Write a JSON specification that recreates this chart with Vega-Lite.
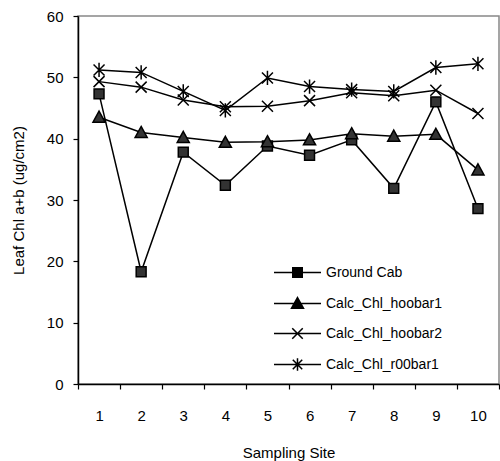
{
  "$schema": "https://vega.github.io/schema/vega-lite/v6.json",
  "width": 421,
  "height": 368,
  "autosize": {"type": "none"},
  "padding": {"left": 78, "top": 16, "right": 1, "bottom": 77},
  "background": "white",
  "config": {
    "font": "Liberation Sans",
    "view": {"stroke": "#888888", "strokeWidth": 1.5},
    "axis": {"grid": false, "domainColor": "black", "domainWidth": 1.5, "tickColor": "black", "tickWidth": 1.2, "tickSize": 5, "labelColor": "black", "labelFontSize": 15, "titleFontSize": 15, "titleFontWeight": "normal", "titleColor": "black"}
  },
  "data": {
    "values": [
      {"site": 1, "series": "Ground Cab", "value": 47.3},
      {"site": 2, "series": "Ground Cab", "value": 18.3},
      {"site": 3, "series": "Ground Cab", "value": 37.8},
      {"site": 4, "series": "Ground Cab", "value": 32.4},
      {"site": 5, "series": "Ground Cab", "value": 38.8},
      {"site": 6, "series": "Ground Cab", "value": 37.3},
      {"site": 7, "series": "Ground Cab", "value": 39.8},
      {"site": 8, "series": "Ground Cab", "value": 31.9},
      {"site": 9, "series": "Ground Cab", "value": 46.0},
      {"site": 10, "series": "Ground Cab", "value": 28.6},
      {"site": 1, "series": "Calc_Chl_hoobar1", "value": 43.5},
      {"site": 2, "series": "Calc_Chl_hoobar1", "value": 41.0},
      {"site": 3, "series": "Calc_Chl_hoobar1", "value": 40.2},
      {"site": 4, "series": "Calc_Chl_hoobar1", "value": 39.4},
      {"site": 5, "series": "Calc_Chl_hoobar1", "value": 39.5},
      {"site": 6, "series": "Calc_Chl_hoobar1", "value": 39.8},
      {"site": 7, "series": "Calc_Chl_hoobar1", "value": 40.8},
      {"site": 8, "series": "Calc_Chl_hoobar1", "value": 40.4},
      {"site": 9, "series": "Calc_Chl_hoobar1", "value": 40.7},
      {"site": 10, "series": "Calc_Chl_hoobar1", "value": 34.9},
      {"site": 1, "series": "Calc_Chl_hoobar2", "value": 49.3},
      {"site": 2, "series": "Calc_Chl_hoobar2", "value": 48.4},
      {"site": 3, "series": "Calc_Chl_hoobar2", "value": 46.3},
      {"site": 4, "series": "Calc_Chl_hoobar2", "value": 45.2},
      {"site": 5, "series": "Calc_Chl_hoobar2", "value": 45.3},
      {"site": 6, "series": "Calc_Chl_hoobar2", "value": 46.2},
      {"site": 7, "series": "Calc_Chl_hoobar2", "value": 47.5},
      {"site": 8, "series": "Calc_Chl_hoobar2", "value": 47.0},
      {"site": 9, "series": "Calc_Chl_hoobar2", "value": 47.9},
      {"site": 10, "series": "Calc_Chl_hoobar2", "value": 44.1},
      {"site": 1, "series": "Calc_Chl_r00bar1", "value": 51.2},
      {"site": 2, "series": "Calc_Chl_r00bar1", "value": 50.8},
      {"site": 3, "series": "Calc_Chl_r00bar1", "value": 47.7},
      {"site": 4, "series": "Calc_Chl_r00bar1", "value": 44.6},
      {"site": 5, "series": "Calc_Chl_r00bar1", "value": 49.9},
      {"site": 6, "series": "Calc_Chl_r00bar1", "value": 48.5},
      {"site": 7, "series": "Calc_Chl_r00bar1", "value": 48.0},
      {"site": 8, "series": "Calc_Chl_r00bar1", "value": 47.7},
      {"site": 9, "series": "Calc_Chl_r00bar1", "value": 51.6},
      {"site": 10, "series": "Calc_Chl_r00bar1", "value": 52.2}
    ]
  },
  "encoding": {
    "x": {"field": "site", "type": "ordinal", "title": "Sampling Site",
      "scale": {"type": "band", "paddingInner": 0, "paddingOuter": 0},
      "axis": {"labelAngle": 0, "tickBand": "extent", "labelPadding": 19, "titlePadding": 22}},
    "y": {"field": "value", "type": "quantitative", "title": "Leaf Chl a+b (ug/cm2)",
      "scale": {"domain": [0, 60], "nice": false},
      "axis": {"values": [0, 10, 20, 30, 40, 50, 60], "labelPadding": 10, "titlePadding": 20}}
  },
  "layer": [
    {
      "mark": {"type": "line", "color": "black", "strokeWidth": 1.5},
      "encoding": {"detail": {"field": "series"}}
    },
    {
      "mark": {"type": "point", "filled": true, "fill": "#333333", "stroke": "black", "strokeWidth": 1.5, "opacity": 1, "size": 121},
      "encoding": {
        "shape": {"field": "series", "legend": null,
          "scale": {"domain": ["Ground Cab", "Calc_Chl_hoobar1", "Calc_Chl_hoobar2", "Calc_Chl_r00bar1"],
            "range": ["M-0.9,-0.9H0.9V0.9H-0.9Z", "M0,-1.1L1.1,0.9L-1.1,0.9Z", "M-1,-1L1,1M-1,1L1,-1", "M-1,-1L1,1M-1,1L1,-1M0,-1.3L0,1.3"]}}
      }
    },
    {
      "transform": [{"filter": "datum.value < 0"}],
      "mark": {"type": "point", "filled": false, "color": "black", "strokeWidth": 1.5, "opacity": 1},
      "encoding": {
        "shape": {"field": "series", "title": null,
          "scale": {"domain": ["Ground Cab", "Calc_Chl_hoobar1", "Calc_Chl_hoobar2", "Calc_Chl_r00bar1"],
            "range": [
              "M-3.13,0L3.13,0M-0.63,-0.63H0.63V0.63H-0.63ZM-0.44,-0.44H0.44V0.44H-0.44ZM-0.25,-0.25H0.25V0.25H-0.25ZM-0.1,-0.1H0.1V0.1H-0.1Z",
              "M-3.13,0L3.13,0M0,-0.8L0.8,0.64L-0.8,0.64ZM0,-0.51L0.56,0.5L-0.56,0.5ZM0,-0.22L0.32,0.35L-0.32,0.35ZM0,0.02L0.12,0.23L-0.12,0.23Z",
              "M-3.13,0L3.13,0M-0.7,-0.7L0.7,0.7M-0.7,0.7L0.7,-0.7",
              "M-3.13,0L3.13,0M-0.63,-0.63L0.63,0.63M-0.63,0.63L0.63,-0.63M0,-0.83L0,0.83"]},
          "legend": {"orient": "none", "legendX": 211, "legendY": 248, "padding": 0,
            "symbolSize": 225, "symbolStrokeColor": "black", "symbolStrokeWidth": 1.5, "symbolOpacity": 1,
            "labelFontSize": 14, "labelColor": "black", "labelOffset": 20, "rowPadding": 13, "labelLimit": 300}
        }
      }
    }
  ],
  "resolve": {"scale": {"shape": "independent"}, "legend": {"shape": "independent"}}
}
